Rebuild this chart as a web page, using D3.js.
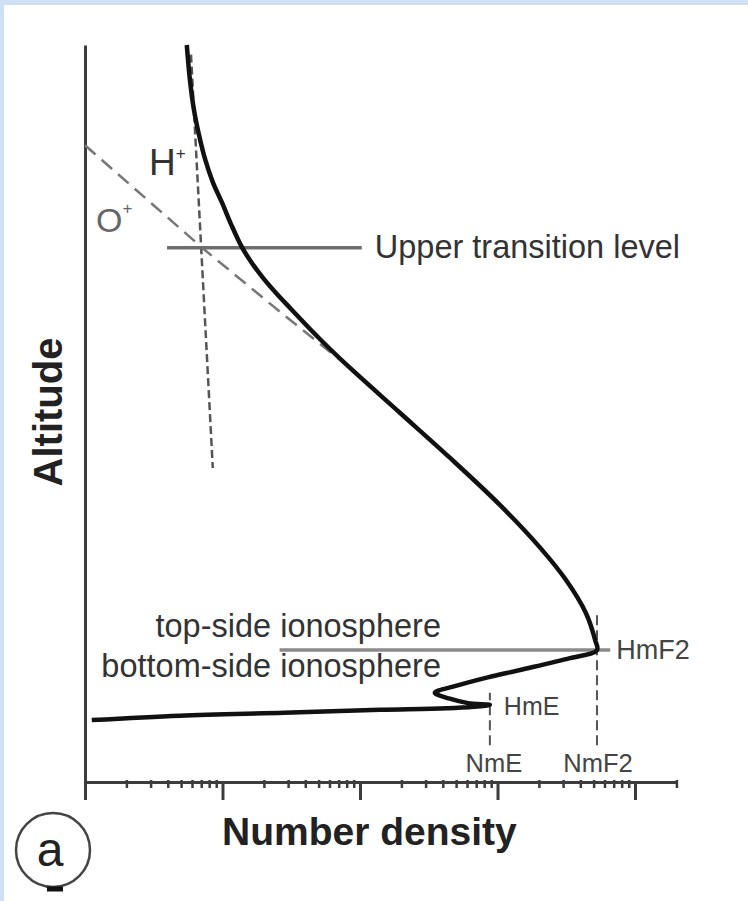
<!DOCTYPE html>
<html>
<head>
<meta charset="utf-8">
<script src="https://cdn.jsdelivr.net/npm/d3@7"></script>
<style>
  body { margin: 0; background: #cfe0f4; }
  svg { display: block; }
</style>
</head>
<body>
<div id="chart"></div>
<script>
// electron density profile, density on a log axis, altitude in arbitrary units (0..1000)
const density = [5.5, 5.8, 6.2, 6.75, 7.5, 8.5, 9.92, 11.53, 13.9, 16.39, 19.7, 24.5, 32, 43.3, 60.5, 84.6, 195, 450, 1040, 2040, 3150, 4400, 5120, 5290, 3370, 1460, 850, 490, 350, 450, 610, 880, 430, 140, 28, 4.9, 1.12];
const altitude = [1000, 952, 912, 878, 844, 814, 786, 757, 725, 704, 684, 663.5, 640.5, 614.7, 587.5, 561.8, 501, 440, 376, 318, 274, 229, 193, 179, 168, 152, 142, 130, 121, 113, 107, 104.5, 100, 98, 94, 90, 84];

// H+ and O+ dashed guides
const hPlusDensity = [5.9, 8.5];
const hPlusAltitude = [987, 426];
const oPlusDensity = [1, 7.1, 25, 78];
const oPlusAltitude = [864, 725, 641, 567];

// levels
const transitionAltitude = 725;
const transitionSpan = [3.95, 103];
const hmF2Altitude = 179;
const hmF2Span = [26, 6600];
const hmEAltitude = 104.5;
const nmF2 = 5290;
const nmE = 880;
const nmF2Span = [50, 231];
const nmESpan = [50, 121];

const majorTicks = [1, 10, 100, 1000, 10000];
const minorTicks = [2, 3, 4, 5, 6, 7, 8, 9, 20, 30, 40, 50, 60, 70, 80, 90, 200, 300, 400, 500, 600, 700, 800, 900, 2000, 3000, 4000, 5000, 6000, 7000, 8000, 9000, 20000];

const width = 748;
const height = 901;

const svg = d3.select("#chart").append("svg")
    .attr("width", width)
    .attr("height", height)
    .style("font-family", "'Liberation Sans', Arial, sans-serif");

svg.append("rect").attr("width", width).attr("height", height).attr("fill", "#cfe0f4");
svg.append("rect").attr("x", 4).attr("y", 5).attr("width", width - 4).attr("height", height - 5).attr("fill", "#fff");

const x = d3.scaleLog().domain([1, 2e4]).range([85, 676.4]);
const y = d3.scaleLinear().domain([0, 1000]).range([782, 45]);

// axes
const gx = svg.append("g")
    .attr("transform", `translate(0,${y(0)})`)
    .attr("color", "#3c3c3c");

gx.append("g")
    .attr("transform", "translate(0,-2)")
    .call(d3.axisBottom(x).tickValues(minorTicks).tickSize(8).tickFormat(""))
    .call(g => g.select(".domain").remove())
    .call(g => g.selectAll(".tick line").attr("stroke-width", 2.5));

gx.append("g")
    .call(d3.axisBottom(x).tickValues(majorTicks).tickSize(18).tickSizeOuter(0).tickFormat(""))
    .call(g => g.select(".domain").attr("stroke-width", 3))
    .call(g => g.selectAll(".tick line").attr("stroke-width", 3));

svg.append("g")
    .attr("transform", `translate(${x(1)},0)`)
    .attr("color", "#3c3c3c")
    .call(d3.axisLeft(y).tickValues([]).tickSizeOuter(0))
    .call(g => g.select(".domain").attr("stroke-width", 3));

const line = d3.line()
    .x(d => x(d[0]))
    .y(d => y(d[1]));

// dashed guides
svg.append("path")
    .attr("d", line(d3.zip(oPlusDensity, oPlusAltitude)))
    .attr("fill", "none")
    .attr("stroke", "#777")
    .attr("stroke-width", 2.5)
    .attr("stroke-dasharray", "14 8");

svg.append("path")
    .attr("d", line(d3.zip(hPlusDensity, hPlusAltitude)))
    .attr("fill", "none")
    .attr("stroke", "#555")
    .attr("stroke-width", 2.5)
    .attr("stroke-dasharray", "8 4");

svg.append("path")
    .attr("d", line([[nmF2, nmF2Span[0]], [nmF2, nmF2Span[1]]]))
    .attr("stroke", "#555")
    .attr("stroke-width", 2)
    .attr("stroke-dasharray", "10 5");

svg.append("path")
    .attr("d", line([[nmE, nmESpan[0]], [nmE, nmESpan[1]]]))
    .attr("stroke", "#555")
    .attr("stroke-width", 2)
    .attr("stroke-dasharray", "10 5");

// level lines
svg.append("path")
    .attr("d", line([[transitionSpan[0], transitionAltitude], [transitionSpan[1], transitionAltitude]]))
    .attr("stroke", "#6e6e6e")
    .attr("stroke-width", 3.5);

svg.append("path")
    .attr("d", line([[hmF2Span[0], hmF2Altitude], [hmF2Span[1], hmF2Altitude]]))
    .attr("stroke", "#8a8a8a")
    .attr("stroke-width", 3.5);

// profile
svg.append("path")
    .attr("d", line.curve(d3.curveCatmullRom.alpha(0.5))(d3.zip(density, altitude)))
    .attr("fill", "none")
    .attr("stroke", "#111")
    .attr("stroke-width", 4.5)
    .attr("stroke-linejoin", "round");

// labels
const label = (txt, px, py, size, anchor, fill) => svg.append("text")
    .attr("x", px)
    .attr("y", py)
    .attr("font-size", size)
    .attr("text-anchor", anchor || "start")
    .attr("fill", fill || "#333")
    .text(txt);

label("Upper transition level", x(transitionSpan[1]) + 13, y(transitionAltitude) + 10, 32.5);
label("top-side ionosphere", 441, y(hmF2Altitude) - 13, 32.5, "end");
label("bottom-side ionosphere", 441, y(hmF2Altitude) + 27, 32.5, "end");
label("HmF2", x(hmF2Span[1]) + 6, y(hmF2Altitude) + 9, 27, "start", "#444");
label("HmE", x(nmE) + 14, y(hmEAltitude) + 10, 25, "start", "#444");
label("NmE", x(nmE) + 4, 772, 25.5, "middle", "#444");
label("NmF2", x(nmF2) + 1, 772, 25.5, "middle", "#444");

const hp = label("H", 149, 175, 37, "start", "#333");
hp.append("tspan").attr("font-size", 17).attr("dy", -16).text("+");
const op = label("O", 96, 232, 34, "start", "#666");
op.append("tspan").attr("font-size", 17).attr("dy", -18).text("+");

svg.append("text")
    .attr("x", 222)
    .attr("y", 845)
    .attr("font-size", 39)
    .attr("font-weight", "bold")
    .attr("fill", "#222")
    .text("Number density");

svg.append("text")
    .attr("transform", "translate(62,412) rotate(-90)")
    .attr("text-anchor", "middle")
    .attr("font-size", 40)
    .attr("font-weight", "bold")
    .attr("fill", "#222")
    .text("Altitude");

// panel marker
svg.append("circle")
    .attr("cx", 53)
    .attr("cy", 850)
    .attr("r", 37)
    .attr("fill", "none")
    .attr("stroke", "#444")
    .attr("stroke-width", 2.5);

svg.append("text")
    .attr("x", 50)
    .attr("y", 866)
    .attr("text-anchor", "middle")
    .attr("font-size", 48)
    .attr("fill", "#222")
    .text("a");

svg.append("line")
    .attr("x1", 47).attr("x2", 63)
    .attr("y1", 889).attr("y2", 889)
    .attr("stroke", "#111")
    .attr("stroke-width", 5);
</script>
</body>
</html>
